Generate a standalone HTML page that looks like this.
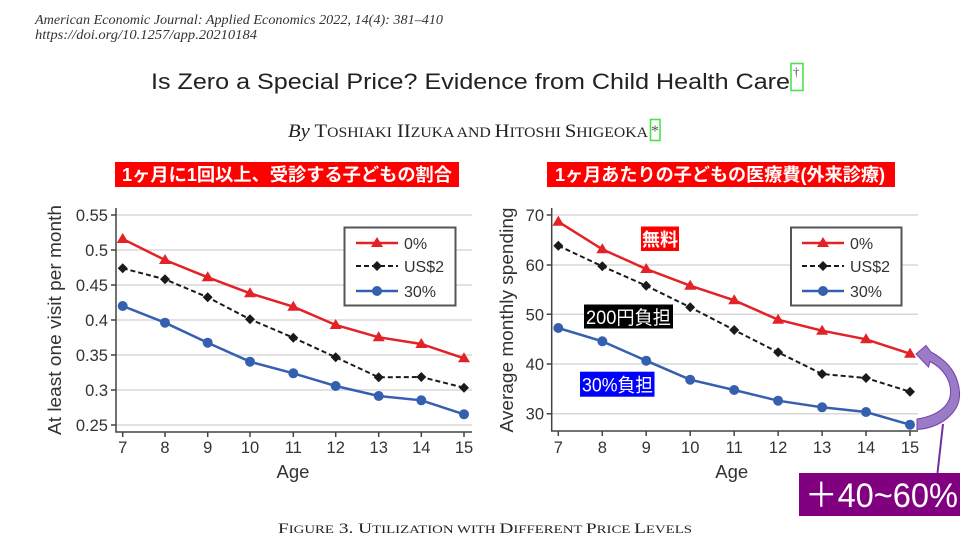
<!DOCTYPE html>
<html><head><meta charset="utf-8"><style>
html,body{margin:0;padding:0;background:#fff;width:969px;height:539px;overflow:hidden}
svg{display:block}
</style></head><body>
<svg width="969" height="539" viewBox="0 0 969 539" xmlns="http://www.w3.org/2000/svg">
<rect width="969" height="539" fill="#fff"/>
<!-- header -->
<g font-family="'Liberation Serif',serif" font-style="italic" fill="#333" font-size="13.5">
<text x="35" y="24" textLength="408" lengthAdjust="spacingAndGlyphs">American Economic Journal: Applied Economics 2022, 14(4): 381–410</text>
<text x="35" y="39" textLength="222" lengthAdjust="spacingAndGlyphs">https://doi.org/10.1257/app.20210184</text>
</g>
<text x="151" y="89" font-family="'Liberation Sans',sans-serif" font-size="22" fill="#222" textLength="639" lengthAdjust="spacingAndGlyphs">Is Zero a Special Price? Evidence from Child Health Care</text>
<text x="793" y="76" font-family="'Liberation Serif',serif" font-size="13" fill="#555">†</text>
<rect x="791" y="63.5" width="12" height="27" fill="none" stroke="#4be34b" stroke-width="1.6"/>
<text x="288" y="137" font-family="'Liberation Serif',serif" fill="#222" textLength="360" lengthAdjust="spacingAndGlyphs"><tspan font-style="italic" font-size="19">By</tspan><tspan font-size="19"> T</tspan><tspan font-size="14.5">OSHIAKI</tspan><tspan font-size="19"> II</tspan><tspan font-size="14.5">ZUKA AND </tspan><tspan font-size="19">H</tspan><tspan font-size="14.5">ITOSHI </tspan><tspan font-size="19">S</tspan><tspan font-size="14.5">HIGEOKA</tspan></text>
<text x="651" y="136" font-family="'Liberation Serif',serif" font-size="16" fill="#555">*</text>
<rect x="650.5" y="119.5" width="9.5" height="21" fill="none" stroke="#4be34b" stroke-width="1.6"/>

<!-- red titles -->
<rect x="115" y="162" width="344" height="25" fill="#ff0000"/>
<text x="122" y="181" font-family="'Liberation Sans','Noto Sans CJK JP',sans-serif" font-weight="bold" font-size="18" fill="#fff" textLength="330" lengthAdjust="spacingAndGlyphs">1ヶ月に1回以上、受診する子どもの割合</text>
<rect x="547" y="162" width="348" height="25" fill="#ff0000"/>
<text x="555" y="181" font-family="'Liberation Sans','Noto Sans CJK JP',sans-serif" font-weight="bold" font-size="18" fill="#fff" textLength="330" lengthAdjust="spacingAndGlyphs">1ヶ月あたりの子どもの医療費(外来診療)</text>

<!-- LEFT CHART -->
<g stroke="#d8d8d8" stroke-width="1.5">
<line x1="116" y1="215" x2="472" y2="215"/>
<line x1="116" y1="250" x2="472" y2="250"/>
<line x1="116" y1="285" x2="472" y2="285"/>
<line x1="116" y1="320" x2="472" y2="320"/>
<line x1="116" y1="355" x2="472" y2="355"/>
<line x1="116" y1="390" x2="472" y2="390"/>
<line x1="116" y1="425" x2="472" y2="425"/>
</g>
<g stroke="#444" stroke-width="1.5" fill="none">
<line x1="116" y1="208" x2="116" y2="432.5"/>
<line x1="115.3" y1="432" x2="472" y2="432"/>
<path d="M111 215H116M111 250H116M111 285H116M111 320H116M111 355H116M111 390H116M111 425H116"/>
<path d="M122.7 432V437M165 432V437M207.7 432V437M250 432V437M293.3 432V437M335.7 432V437M378.7 432V437M421.3 432V437M464 432V437"/>
</g>
<g font-family="'Liberation Sans',sans-serif" font-size="16.5" fill="#333" text-anchor="end">
<text x="108" y="221">0.55</text>
<text x="108" y="256">0.5</text>
<text x="108" y="291">0.45</text>
<text x="108" y="326">0.4</text>
<text x="108" y="361">0.35</text>
<text x="108" y="396">0.3</text>
<text x="108" y="431">0.25</text>
</g>
<g font-family="'Liberation Sans',sans-serif" font-size="16.5" fill="#333" text-anchor="middle">
<text x="122.7" y="453">7</text>
<text x="165" y="453">8</text>
<text x="207.7" y="453">9</text>
<text x="250" y="453">10</text>
<text x="293.3" y="453">11</text>
<text x="335.7" y="453">12</text>
<text x="378.7" y="453">13</text>
<text x="421.3" y="453">14</text>
<text x="464" y="453">15</text>
<text x="293" y="478" font-size="18.5">Age</text>
</g>
<text transform="translate(61,320) rotate(-90)" font-family="'Liberation Sans',sans-serif" font-size="18" fill="#333" text-anchor="middle" textLength="230" lengthAdjust="spacingAndGlyphs">At least one visit per month</text>

<!-- left series -->
<polyline fill="none" stroke="#e32228" stroke-width="2.5" points="122.7,239 165,260 207.7,277.3 250,293.3 293.3,306.7 335.7,325 378.7,337.3 421.3,344 464,358.3"/>
<polyline fill="none" stroke="#1a1a1a" stroke-width="2" stroke-dasharray="5,3" points="122.7,268.3 165,279.3 207.7,297.3 250,319.3 293.3,337.7 335.7,357.3 378.7,377.3 421.3,377 464,387.7"/>
<polyline fill="none" stroke="#3560b0" stroke-width="2.5" points="122.7,306 165,322.7 207.7,342.7 250,361.7 293.3,373.3 335.7,386 378.7,396 421.3,400.3 464,414.3"/>
<g fill="#e32228">
<path d="M122.7 233l6 10h-12z"/><path d="M165 254l6 10h-12z"/><path d="M207.7 271.3l6 10h-12z"/><path d="M250 287.3l6 10h-12z"/><path d="M293.3 300.7l6 10h-12z"/><path d="M335.7 319l6 10h-12z"/><path d="M378.7 331.3l6 10h-12z"/><path d="M421.3 338l6 10h-12z"/><path d="M464 352.3l6 10h-12z"/>
</g>
<g fill="#1a1a1a">
<path d="M122.7 263.3l5 5l-5 5l-5-5z"/><path d="M165 274.3l5 5l-5 5l-5-5z"/><path d="M207.7 292.3l5 5l-5 5l-5-5z"/><path d="M250 314.3l5 5l-5 5l-5-5z"/><path d="M293.3 332.7l5 5l-5 5l-5-5z"/><path d="M335.7 352.3l5 5l-5 5l-5-5z"/><path d="M378.7 372.3l5 5l-5 5l-5-5z"/><path d="M421.3 372l5 5l-5 5l-5-5z"/><path d="M464 382.7l5 5l-5 5l-5-5z"/>
</g>
<g fill="#3560b0">
<circle cx="122.7" cy="306" r="5"/><circle cx="165" cy="322.7" r="5"/><circle cx="207.7" cy="342.7" r="5"/><circle cx="250" cy="361.7" r="5"/><circle cx="293.3" cy="373.3" r="5"/><circle cx="335.7" cy="386" r="5"/><circle cx="378.7" cy="396" r="5"/><circle cx="421.3" cy="400.3" r="5"/><circle cx="464" cy="414.3" r="5"/>
</g>
<!-- left legend -->
<rect x="344.5" y="227.5" width="111" height="78" fill="#fff" stroke="#555" stroke-width="2"/>
<line x1="356" y1="243" x2="398" y2="243" stroke="#e32228" stroke-width="2.5"/>
<path d="M377 237l6 10h-12z" fill="#e32228"/>
<line x1="356" y1="266" x2="398" y2="266" stroke="#1a1a1a" stroke-width="2" stroke-dasharray="5,3"/>
<path d="M377 261l5 5l-5 5l-5-5z" fill="#1a1a1a"/>
<line x1="356" y1="291" x2="398" y2="291" stroke="#3560b0" stroke-width="2.5"/>
<circle cx="377" cy="291" r="5" fill="#3560b0"/>
<g font-family="'Liberation Sans',sans-serif" font-size="16" fill="#333">
<text x="404" y="249">0%</text>
<text x="404" y="272">US$2</text>
<text x="404" y="297">30%</text>
</g>

<!-- RIGHT CHART -->
<g stroke="#d8d8d8" stroke-width="1.5">
<line x1="552" y1="215" x2="918" y2="215"/>
<line x1="552" y1="265" x2="918" y2="265"/>
<line x1="552" y1="314.3" x2="918" y2="314.3"/>
<line x1="552" y1="364" x2="918" y2="364"/>
<line x1="552" y1="413.7" x2="918" y2="413.7"/>
</g>
<g stroke="#444" stroke-width="1.5" fill="none">
<line x1="551.7" y1="208" x2="551.7" y2="431.5"/>
<line x1="551" y1="431" x2="918" y2="431"/>
<path d="M546.7 215H551.7M546.7 265H551.7M546.7 314.3H551.7M546.7 364H551.7M546.7 413.7H551.7"/>
<path d="M558.3 431V436M602.3 431V436M646.2 431V436M690.2 431V436M734.2 431V436M778.1 431V436M822.1 431V436M866 431V436M910 431V436"/>
</g>
<g font-family="'Liberation Sans',sans-serif" font-size="16.5" fill="#333" text-anchor="end">
<text x="544" y="221">70</text>
<text x="544" y="271">60</text>
<text x="544" y="320.3">50</text>
<text x="544" y="370">40</text>
<text x="544" y="419.7">30</text>
</g>
<g font-family="'Liberation Sans',sans-serif" font-size="16.5" fill="#333" text-anchor="middle">
<text x="558.3" y="453">7</text>
<text x="602.3" y="453">8</text>
<text x="646.2" y="453">9</text>
<text x="690.2" y="453">10</text>
<text x="734.2" y="453">11</text>
<text x="778.1" y="453">12</text>
<text x="822.1" y="453">13</text>
<text x="866" y="453">14</text>
<text x="910" y="453">15</text>
<text x="731.7" y="478" font-size="18.5">Age</text>
</g>
<text transform="translate(513,320) rotate(-90)" font-family="'Liberation Sans',sans-serif" font-size="18" fill="#333" text-anchor="middle" textLength="225" lengthAdjust="spacingAndGlyphs">Average monthly spending</text>

<polyline fill="none" stroke="#e32228" stroke-width="2.5" points="558.3,221.7 602.3,249.3 646.2,269 690.2,285.7 734.2,300.3 778.1,319.7 822.1,330.7 866,339.3 910,353.7"/>
<polyline fill="none" stroke="#1a1a1a" stroke-width="2" stroke-dasharray="5,3" points="558.3,245.7 602.3,266.3 646.2,285.7 690.2,307.3 734.2,330 778.1,352.3 822.1,374 866,378 910,391.7"/>
<polyline fill="none" stroke="#3560b0" stroke-width="2.5" points="558.3,328 602.3,341.3 646.2,360.7 690.2,379.7 734.2,390 778.1,400.7 822.1,407.3 866,412 910,424.7"/>
<g fill="#e32228">
<path d="M558.3 215.7l6 10h-12z"/><path d="M602.3 243.3l6 10h-12z"/><path d="M646.2 263l6 10h-12z"/><path d="M690.2 279.7l6 10h-12z"/><path d="M734.2 294.3l6 10h-12z"/><path d="M778.1 313.7l6 10h-12z"/><path d="M822.1 324.7l6 10h-12z"/><path d="M866 333.3l6 10h-12z"/><path d="M910 347.7l6 10h-12z"/>
</g>
<g fill="#1a1a1a">
<path d="M558.3 240.7l5 5l-5 5l-5-5z"/><path d="M602.3 261.3l5 5l-5 5l-5-5z"/><path d="M646.2 280.7l5 5l-5 5l-5-5z"/><path d="M690.2 302.3l5 5l-5 5l-5-5z"/><path d="M734.2 325l5 5l-5 5l-5-5z"/><path d="M778.1 347.3l5 5l-5 5l-5-5z"/><path d="M822.1 369l5 5l-5 5l-5-5z"/><path d="M866 373l5 5l-5 5l-5-5z"/><path d="M910 386.7l5 5l-5 5l-5-5z"/>
</g>
<g fill="#3560b0">
<circle cx="558.3" cy="328" r="5"/><circle cx="602.3" cy="341.3" r="5"/><circle cx="646.2" cy="360.7" r="5"/><circle cx="690.2" cy="379.7" r="5"/><circle cx="734.2" cy="390" r="5"/><circle cx="778.1" cy="400.7" r="5"/><circle cx="822.1" cy="407.3" r="5"/><circle cx="866" cy="412" r="5"/><circle cx="910" cy="424.7" r="5"/>
</g>
<!-- right legend -->
<rect x="791" y="227.5" width="110.5" height="78" fill="#fff" stroke="#555" stroke-width="2"/>
<line x1="802" y1="243" x2="844" y2="243" stroke="#e32228" stroke-width="2.5"/>
<path d="M823 237l6 10h-12z" fill="#e32228"/>
<line x1="802" y1="266" x2="844" y2="266" stroke="#1a1a1a" stroke-width="2" stroke-dasharray="5,3"/>
<path d="M823 261l5 5l-5 5l-5-5z" fill="#1a1a1a"/>
<line x1="802" y1="291" x2="844" y2="291" stroke="#3560b0" stroke-width="2.5"/>
<circle cx="823" cy="291" r="5" fill="#3560b0"/>
<g font-family="'Liberation Sans',sans-serif" font-size="16" fill="#333">
<text x="850" y="249">0%</text>
<text x="850" y="272">US$2</text>
<text x="850" y="297">30%</text>
</g>

<!-- annotations -->
<rect x="641" y="226.5" width="38" height="24.5" fill="#ff0000"/>
<text x="642" y="246" font-family="'Liberation Sans','Noto Sans CJK JP',sans-serif" font-weight="bold" font-size="18" fill="#fff" textLength="36" lengthAdjust="spacingAndGlyphs">無料</text>
<rect x="584" y="304.5" width="89" height="24" fill="#000"/>
<text x="586" y="324" font-family="'Liberation Sans','Noto Sans CJK JP',sans-serif" font-size="19" fill="#fff" textLength="85" lengthAdjust="spacingAndGlyphs">200円負担</text>
<rect x="580" y="371.7" width="74.5" height="25" fill="#0000ff"/>
<text x="582" y="391.5" font-family="'Liberation Sans','Noto Sans CJK JP',sans-serif" font-size="19" fill="#fff" textLength="71" lengthAdjust="spacingAndGlyphs">30%負担</text>

<!-- curved arrow -->
<line x1="943" y1="424" x2="937.5" y2="473" stroke="#7030a0" stroke-width="2"/>
<path d="M917 419 L917 429.5 C940 428 961 413 959.5 392 C958 372 946 360 931 352 L926 345.5 L916 354 L928.5 367 L930 361.5 C943 368 951 380 950.5 393 C950 406 937 416 917 419 Z" fill="#9a7cc6" stroke="#7a3fb0" stroke-width="1"/>

<rect x="799" y="473" width="161" height="43" fill="#800080"/>
<text x="805" y="507" font-family="'Liberation Sans','Noto Sans CJK JP',sans-serif" font-size="34" fill="#fff" textLength="153" lengthAdjust="spacingAndGlyphs">＋40~60%</text>

<!-- caption -->
<text x="278" y="533" font-family="'Liberation Serif',serif" fill="#222" textLength="414" lengthAdjust="spacingAndGlyphs"><tspan font-size="15">F</tspan><tspan font-size="11.5">IGURE</tspan><tspan font-size="15"> 3. U</tspan><tspan font-size="11.5">TILIZATION WITH </tspan><tspan font-size="15">D</tspan><tspan font-size="11.5">IFFERENT </tspan><tspan font-size="15">P</tspan><tspan font-size="11.5">RICE </tspan><tspan font-size="15">L</tspan><tspan font-size="11.5">EVELS</tspan></text>
</svg>
</body></html>
